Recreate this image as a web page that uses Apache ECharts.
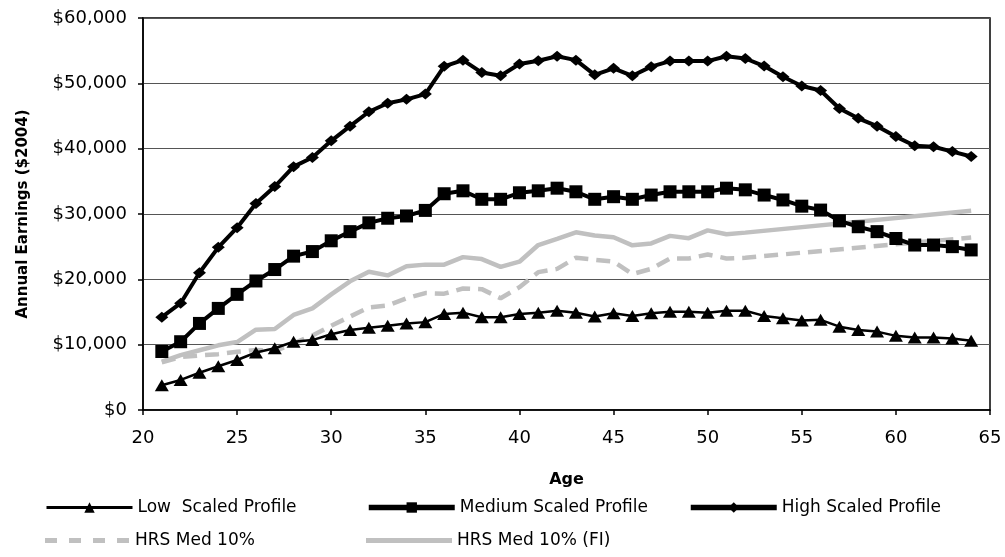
<!DOCTYPE html>
<html>
<head>
<meta charset="utf-8">
<script src="https://cdn.jsdelivr.net/npm/echarts@6/dist/echarts.min.js"></script>
<style>
html,body{margin:0;padding:0;background:#fff;}
#chart{width:1005px;height:557px;}
</style>
</head>
<body>
<div id="chart"></div>
<script>
var ages = [21,22,23,24,25,26,27,28,29,30,31,32,33,34,35,36,37,38,39,40,41,42,43,44,45,46,47,48,49,50,51,52,53,54,55,56,57,58,59,60,61,62,63,64];
var lowScaled = [3800,4600,5700,6700,7650,8800,9450,10450,10700,11600,12250,12600,12900,13250,13450,14700,14900,14200,14200,14700,14900,15200,14900,14300,14800,14400,14800,15050,15050,14900,15200,15200,14400,14050,13700,13800,12750,12250,12000,11350,11100,11100,10950,10600];
var mediumScaled = [8950,10450,13250,15550,17700,19750,21500,23550,24250,25900,27300,28650,29350,29700,30550,33100,33550,32250,32250,33250,33550,33950,33400,32250,32650,32250,32900,33400,33400,33400,33950,33700,32900,32150,31200,30600,28950,28050,27300,26250,25250,25250,25000,24500];
var highScaled = [14200,16350,21000,24900,27900,31600,34200,37250,38650,41200,43450,45650,46950,47550,48350,52600,53550,51650,51150,52950,53450,54150,53550,51300,52300,51150,52550,53400,53400,53400,54150,53800,52650,51000,49600,48900,46150,44650,43450,41850,40450,40300,39550,38800];
var hrsAges = [21,22,23,24,25,26,27,28,29,30,31,32,33,34,35,36,37,38,39,40,41,42,43,44,45,46,47,48,49,50,51,52,64];
var hrsMed10 = [7300,8100,8350,8550,8900,9200,9000,10200,11400,12900,14300,15700,16000,17100,17900,17800,18600,18500,17100,18800,21100,21600,23300,23000,22700,20800,21600,23200,23200,23800,23200,23300,26400];
var hrsMed10FI = [7400,8400,9150,9900,10400,12300,12400,14550,15550,17700,19700,21150,20600,22000,22250,22250,23400,23100,21900,22700,25250,26200,27200,26700,26450,25200,25500,26650,26300,27500,26900,27150,30500];
var xTicks = [20,25,30,35,40,45,50,55,60,65];
var yTicks = [0,10000,20000,30000,40000,50000,60000];
var seriesNames = ['Low  Scaled Profile','Medium Scaled Profile','High Scaled Profile','HRS Med 10%','HRS Med 10% (FI)'];

function pairs(xs, ys){ return xs.map(function(x,i){ return [x, ys[i]]; }); }
function money(v){ return '$' + v.toLocaleString('en-US'); }

var FONT = 'DejaVu Sans';
var chart = echarts.init(document.getElementById('chart'));
var legendText = {fontFamily: FONT, fontSize: 17, color: '#000'};
function mkLegend(item, left, top, h){
  return {data:[item], left:left, top:top, itemWidth:86, itemHeight:h || 11, itemGap:0,
          textStyle: legendText, padding:0, selectedMode:false};
}
var dashIcon = 'path://M0,0h12v5h-12z M24,0h12v5h-12z M48,0h12v5h-12z M72,0h12v5h-12z';
chart.setOption({
  animation: false,
  backgroundColor: '#fff',
  grid: {left:143, right:15, top:18, bottom:147, show:true, borderColor:'#000', borderWidth:1.5, backgroundColor:'transparent'},
  legend: [
    mkLegend({name:seriesNames[0], lineStyle:{width:3}}, 45, 499, 13),
    mkLegend({name:seriesNames[1], lineStyle:{width:5.5}}, 366, 499, 13),
    mkLegend({name:seriesNames[2], lineStyle:{width:5.5}}, 688, 499, 13),
    mkLegend({name:seriesNames[3], icon:dashIcon, itemStyle:{color:'#c0c0c0'}}, 45, 532, 5),
    mkLegend({name:seriesNames[4], icon:'rect', itemStyle:{color:'#c0c0c0'}}, 366, 532, 5)
  ],
  xAxis: {
    type:'value', min:xTicks[0], max:xTicks[xTicks.length-1], interval:5,
    name:'Age', nameLocation:'middle', nameGap:62,
    nameTextStyle:{fontFamily:FONT, fontSize:16, fontWeight:'bold', color:'#000'},
    axisLine:{show:true, onZero:false, lineStyle:{color:'#000', width:1.5}},
    axisTick:{show:true, length:5, lineStyle:{color:'#000', width:1.5}},
    axisLabel:{fontFamily:FONT, fontSize:18, color:'#000', margin:19},
    splitLine:{show:false}
  },
  yAxis: {
    type:'value', min:yTicks[0], max:yTicks[yTicks.length-1], interval:10000,
    name:'Annual Earnings ($2004)', nameLocation:'middle', nameGap:112,
    nameTextStyle:{fontFamily:FONT, fontSize:15, fontWeight:'bold', color:'#000'},
    axisLine:{show:true, lineStyle:{color:'#000', width:1.5}},
    axisTick:{show:true, length:5, lineStyle:{color:'#000', width:1.5}},
    axisLabel:{fontFamily:FONT, fontSize:18, color:'#000', margin:16, formatter:money},
    splitLine:{show:true, lineStyle:{color:'#555', width:1.2}}
  },
  series: [
    {name:seriesNames[0], type:'line', data:pairs(ages, lowScaled), symbol:'triangle', symbolSize:[14,12],
     lineStyle:{color:'#000', width:2.5}, itemStyle:{color:'#000'}, z:3},
    {name:seriesNames[1], type:'line', data:pairs(ages, mediumScaled), symbol:'rect', symbolSize:13,
     lineStyle:{color:'#000', width:4}, itemStyle:{color:'#000'}, z:3},
    {name:seriesNames[2], type:'line', data:pairs(ages, highScaled), symbol:'diamond', symbolSize:[13,11],
     lineStyle:{color:'#000', width:4}, itemStyle:{color:'#000'}, z:3},
    {name:seriesNames[3], type:'line', data:pairs(hrsAges, hrsMed10), showSymbol:false, symbol:'none',
     lineStyle:{color:'#c0c0c0', width:4.5, type:[14,8]}, itemStyle:{color:'#c0c0c0'}, z:2},
    {name:seriesNames[4], type:'line', data:pairs(hrsAges, hrsMed10FI), showSymbol:false, symbol:'none',
     lineStyle:{color:'#c0c0c0', width:4.5}, itemStyle:{color:'#c0c0c0'}, z:2}
  ]
});
</script>
</body>
</html>
